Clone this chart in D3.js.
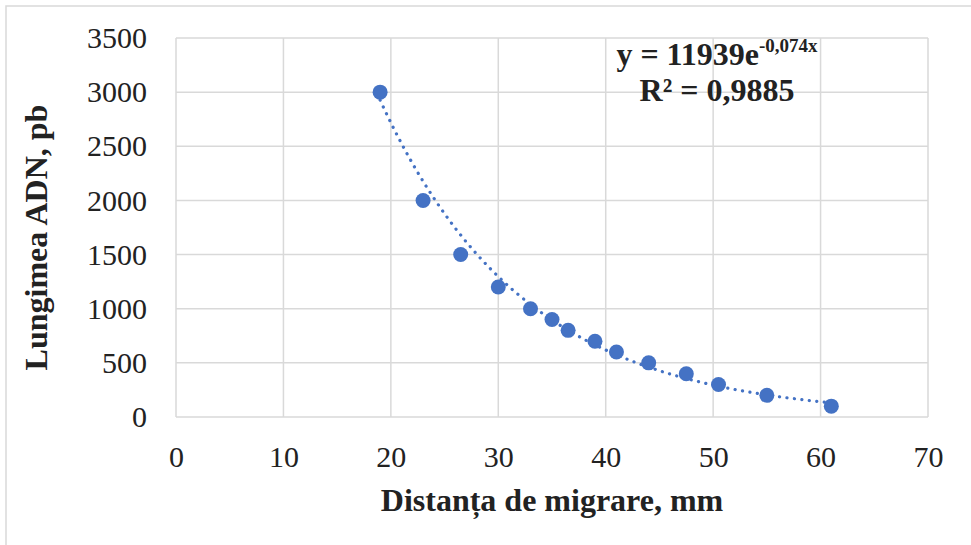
<!DOCTYPE html>
<html>
<head>
<meta charset="utf-8">
<script src="https://cdn.jsdelivr.net/npm/d3@7"></script>
<style>
  html, body { margin: 0; padding: 0; background: #fff; }
  text { font-family: "Liberation Serif", "Times New Roman", serif; fill: #222; }
</style>
</head>
<body>
<svg id="chart" width="971" height="545"></svg>
<script>
// --- DATA ---
const distance = [19, 23, 26.5, 30, 33, 35, 36.5, 39, 41, 44, 47.5, 50.5, 55, 61];
const lengthBp = [3000, 2000, 1500, 1200, 1000, 900, 800, 700, 600, 500, 400, 300, 200, 100];
const xTicks = [0, 10, 20, 30, 40, 50, 60, 70];
const yTicks = [0, 500, 1000, 1500, 2000, 2500, 3000, 3500];
const trendA = 11939, trendB = -0.074;   // exponential trendline, as printed on the chart

// --- SETUP ---
const svg = d3.select("#chart");
const W = 971, H = 545;
const margin = { left: 176, right: 43, top: 38, bottom: 128 };
const grid = "#d9d9d9", blue = "#4472c4";

svg.append("rect").attr("x", 6).attr("y", 6).attr("width", W).attr("height", H)
    .attr("fill", "#fff").attr("stroke", grid).attr("stroke-width", 1.5);

const x = d3.scaleLinear().domain([0, 70]).range([margin.left, W - margin.right]);
const y = d3.scaleLinear().domain([0, 3500]).range([H - margin.bottom, margin.top]);

// gridlines
svg.append("g").selectAll("line").data(xTicks).join("line")
    .attr("x1", d => x(d)).attr("x2", d => x(d))
    .attr("y1", y(0)).attr("y2", y(3500))
    .attr("stroke", grid).attr("stroke-width", 1.5);
svg.append("g").selectAll("line").data(yTicks).join("line")
    .attr("x1", x(0)).attr("x2", x(70))
    .attr("y1", d => y(d)).attr("y2", d => y(d))
    .attr("stroke", grid).attr("stroke-width", 1.5);

// axes labels (no tick marks, no domain)
const xAxis = svg.append("g").attr("transform", `translate(0,${y(0)})`)
    .call(d3.axisBottom(x).tickValues(xTicks).tickSize(0).tickPadding(29));
const yAxis = svg.append("g").attr("transform", `translate(${x(0)},0)`)
    .call(d3.axisLeft(y).tickValues(yTicks).tickFormat(d3.format("d")).tickSize(0).tickPadding(29));
[xAxis, yAxis].forEach(a => {
    a.select(".domain").remove();
    a.selectAll("text").attr("font-family", "Liberation Serif").attr("font-size", 30).attr("fill", "#222");
});

// trendline
const trend = d3.range(19, 61.01, 0.25).map(v => [v, trendA * Math.exp(trendB * v)]);
svg.append("path").datum(trend)
    .attr("d", d3.line().x(d => x(d[0])).y(d => y(d[1])))
    .attr("fill", "none").attr("stroke", blue).attr("stroke-width", 3.2)
    .attr("stroke-linecap", "round").attr("stroke-dasharray", "0.1 7.4");

// points
svg.append("g").selectAll("circle").data(distance).join("circle")
    .attr("cx", d => x(d)).attr("cy", (d, i) => y(lengthBp[i]))
    .attr("r", 7.5).attr("fill", blue);

// axis titles
svg.append("text").attr("x", (x(0) + x(70)) / 2).attr("y", 511)
    .attr("text-anchor", "middle").attr("font-weight", "bold").attr("font-size", 32)
    .text("Distanța de migrare, mm");
svg.append("text").attr("transform", `translate(47,${(y(0) + y(3500)) / 2 + 10}) rotate(-90)`)
    .attr("text-anchor", "middle").attr("font-weight", "bold").attr("font-size", 32)
    .text("Lungimea ADN, pb");

// equation
const eq = svg.append("text").attr("x", 717).attr("y", 65)
    .attr("text-anchor", "middle").attr("font-weight", "bold").attr("font-size", 32);
eq.append("tspan").text("y = 11939e");
eq.append("tspan").attr("dy", -13).attr("font-size", 19).text("-0,074x");
svg.append("text").attr("x", 717).attr("y", 101)
    .attr("text-anchor", "middle").attr("font-weight", "bold").attr("font-size", 32)
    .text("R² = 0,9885");
</script>
</body>
</html>
